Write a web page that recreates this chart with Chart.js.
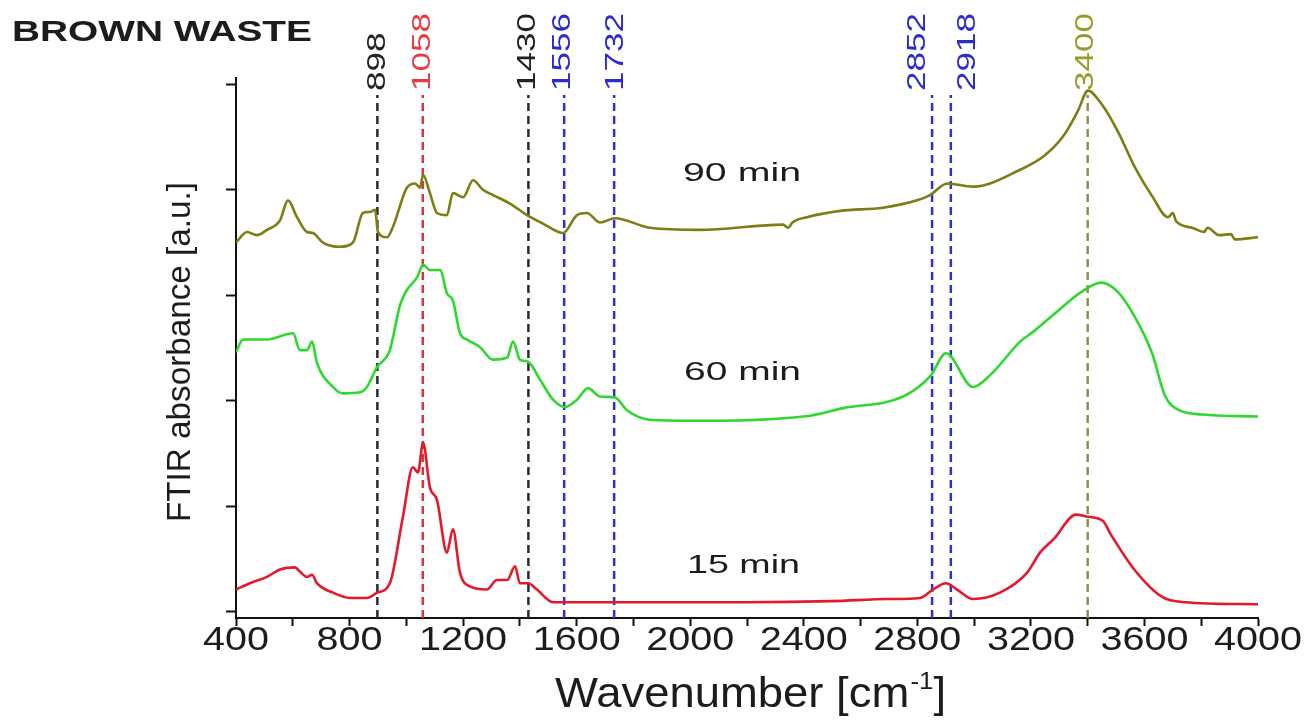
<!DOCTYPE html>
<html>
<head>
<meta charset="utf-8">
<style>
html,body{margin:0;padding:0;background:#fff;overflow:hidden}
canvas{display:block}
</style>
<script src="https://cdn.jsdelivr.net/npm/chart.js@4.4.1/dist/chart.umd.min.js"></script>
</head>
<body>
<canvas id="c" width="1308" height="722"></canvas>
<script>
// ---------- data ----------
const xTicks = [400,600,800,1000,1200,1400,1600,1800,2000,2200,2400,2600,2800,3000,3200,3400,3600,3800,4000];
const xTickLabels = [400,800,1200,1600,2000,2400,2800,3200,3600,4000];
const yTicks = [0,1,2,3,4,5];

const wn15 = [400,449,509,555,608,625,650,668,685,742,802,861,897,942,988,1023,1041,1059,1083,1108,1143,1164,1189,1224,1284,1319,1355,1383,1400,1429,1460,1517,1622,1858,2200,2500,2700,2809,2855,2901,2940,2996,3091,3187,3232,3281,3359,3401,3454,3482,3567,3662,3743,4000];
const abs15 = [0.21,0.27,0.33,0.40,0.42,0.38,0.33,0.35,0.27,0.18,0.13,0.13,0.18,0.27,0.90,1.37,1.32,1.60,1.18,1.06,0.56,0.78,0.37,0.24,0.21,0.30,0.30,0.43,0.27,0.27,0.21,0.09,0.09,0.09,0.09,0.10,0.12,0.13,0.21,0.27,0.21,0.12,0.18,0.37,0.56,0.69,0.92,0.90,0.86,0.73,0.39,0.14,0.09,0.07];

const wn60 = [400,425,509,601,625,650,668,685,742,777,837,861,897,942,978,1002,1038,1059,1083,1119,1143,1164,1189,1214,1259,1305,1355,1376,1400,1429,1471,1517,1559,1601,1640,1682,1735,1777,1858,2000,2400,2540,2750,2845,2901,2996,3059,3162,3211,3281,3377,3447,3507,3567,3627,3672,3722,3803,4000];
const abs60 = [2.46,2.58,2.58,2.64,2.48,2.48,2.56,2.36,2.13,2.07,2.08,2.13,2.32,2.48,2.91,3.05,3.17,3.29,3.24,3.24,3.02,2.95,2.64,2.58,2.51,2.39,2.41,2.56,2.39,2.37,2.20,2.01,1.94,2.01,2.12,2.04,2.03,1.91,1.82,1.81,1.85,1.93,2.04,2.23,2.45,2.13,2.25,2.56,2.66,2.82,3.03,3.12,3.03,2.79,2.45,2.05,1.91,1.87,1.85];

const wn90 = [400,439,474,509,555,583,615,650,671,706,766,812,847,872,890,900,932,953,1002,1031,1048,1059,1083,1108,1143,1164,1200,1235,1270,1305,1365,1425,1481,1552,1601,1636,1682,1735,1858,2034,2327,2345,2360,2411,2528,2679,2799,2845,2905,2996,3162,3246,3317,3366,3401,3447,3507,3567,3627,3683,3700,3712,3768,3810,3822,3863,3905,3918,4000];
const abs90 = [3.50,3.60,3.57,3.62,3.71,3.90,3.74,3.60,3.59,3.50,3.46,3.50,3.78,3.79,3.81,3.60,3.55,3.65,4.02,4.06,4.02,4.14,3.97,3.78,3.76,3.97,3.93,4.09,4.00,3.95,3.87,3.76,3.68,3.59,3.76,3.78,3.69,3.73,3.64,3.62,3.67,3.64,3.69,3.74,3.80,3.83,3.90,3.95,4.06,4.03,4.19,4.32,4.52,4.75,4.94,4.82,4.55,4.21,3.94,3.74,3.78,3.70,3.64,3.60,3.64,3.57,3.58,3.53,3.55];

const peakWn = [898,1058,1430,1556,1732,2852,2918,3400];
const peakLabels = ['898','1058','1430','1556','1732','2852','2918','3400'];
const seriesNames = ['15 min','60 min','90 min'];
const yRange = [-0.06, 5.06];
const peakLineTop = 4.9;

// ---------- styles ----------
const FONT = "'Liberation Sans', Arial, Helvetica, sans-serif";
const peakColors = ['#2a2a33','#e0303a','#2a2a33','#3030cc','#3030cc','#3030cc','#3030cc','#8f8f50'];
const peakTextColors = ['#222222','#e83a40','#222222','#2b2bd0','#2b2bd0','#2b2bd0','#2b2bd0','#9a9a28'];
const peakLabelDx = [0,0,-1,-1,2,-14,17,-2];
const seriesColors = ['#e5182c','#2fd82f','#7d7d14'];

const pts = (xs, ys) => xs.map((x, i) => ({x: x, y: ys[i]}));

const datasets = [];
peakWn.forEach((w, i) => {
  datasets.push({
    data: [{x: w, y: yRange[0]}, {x: w, y: peakLineTop}],
    borderColor: peakColors[i], borderWidth: 2.5, borderDash: [8, 5],
    pointRadius: 0, tension: 0, order: 5
  });
});
[[wn15, abs15], [wn60, abs60], [wn90, abs90]].forEach((s, i) => {
  datasets.push({
    label: seriesNames[i], data: pts(s[0], s[1]),
    borderColor: seriesColors[i], borderWidth: 2.6, pointRadius: 0,
    cubicInterpolationMode: 'monotone', order: 1
  });
});

function stretchText(ctx, text, x, y, font, color, targetW, align, baseline, rot) {
  ctx.save();
  ctx.font = font;
  ctx.fillStyle = color;
  const w = ctx.measureText(text).width;
  const sx = targetW ? targetW / w : 1;
  ctx.translate(x, y);
  if (rot) ctx.rotate(rot);
  ctx.scale(sx, 1);
  ctx.textAlign = align;
  ctx.textBaseline = baseline;
  ctx.fillText(text, 0, 0);
  ctx.restore();
}

const textPlugin = {
  id: 'texts',
  afterDraw(chart) {
    const ctx = chart.ctx;
    const xs = chart.scales.x, ys = chart.scales.y;
    const dark = '#1c1c1c';
    // title
    stretchText(ctx, 'BROWN WASTE', 12, 41, 'bold 30px ' + FONT, dark, 300, 'left', 'alphabetic', 0);
    // x tick labels
    xTickLabels.forEach(v => {
      const s = String(v);
      stretchText(ctx, s, xs.getPixelForValue(v), 650, '33px ' + FONT, dark, s.length * 22, 'center', 'alphabetic', 0);
    });
    // x title with superscript
    ctx.save();
    const f1 = '42px ' + FONT, f2 = '24px ' + FONT;
    ctx.font = f1; const w1 = ctx.measureText('Wavenumber [cm').width; const w3 = ctx.measureText(']').width;
    ctx.font = f2; const w2 = ctx.measureText('-1').width;
    const total = w1 + w2 + w3, target = 390;
    const sx = target / total;
    const cx = (xs.left + xs.right) / 2 + 3;
    ctx.translate(cx - target / 2, 707);
    ctx.scale(sx, 1);
    ctx.fillStyle = dark; ctx.textAlign = 'left'; ctx.textBaseline = 'alphabetic';
    ctx.font = f1; ctx.fillText('Wavenumber [cm', 0, 0);
    ctx.font = f2; ctx.fillText('-1', w1 + 1, -18);
    ctx.font = f1; ctx.fillText(']', w1 + w2 + 1, 0);
    ctx.restore();
    // y title
    stretchText(ctx, 'FTIR absorbance [a.u.]', 181, 352, '34px ' + FONT, dark, 340, 'center', 'middle', -Math.PI / 2);
    // peak labels
    const labelBase = ys.getPixelForValue(peakLineTop) - 4;
    peakWn.forEach((w, i) => {
      const t = peakLabels[i];
      stretchText(ctx, t, xs.getPixelForValue(w) + peakLabelDx[i], labelBase, '26px ' + FONT, peakTextColors[i], t.length * 19.5, 'left', 'middle', -Math.PI / 2);
    });
    // series labels
    stretchText(ctx, '90 min', 683, 181, '25px ' + FONT, dark, 118, 'left', 'alphabetic', 0);
    stretchText(ctx, '60 min', 684, 380, '25px ' + FONT, dark, 117, 'left', 'alphabetic', 0);
    stretchText(ctx, '15 min', 687, 573, '25px ' + FONT, dark, 113, 'left', 'alphabetic', 0);
  }
};

new Chart(document.getElementById('c'), {
  type: 'line',
  data: {datasets: datasets},
  options: {
    responsive: false, animation: false, devicePixelRatio: 1,
    layout: {padding: {left: 224, right: 50, top: 78, bottom: 0}},
    plugins: {legend: {display: false}, tooltip: {enabled: false}, title: {display: false}},
    scales: {
      x: {
        type: 'linear', min: 400, max: 4000,
        afterBuildTicks: s => { s.ticks = xTicks.map(v => ({value: v})); },
        ticks: {display: false},
        grid: {drawOnChartArea: false, drawTicks: true, tickLength: 8, tickWidth: 2, tickColor: '#111'},
        border: {display: true, color: '#111', width: 2},
        afterFit: s => { s.height = 104; }
      },
      y: {
        type: 'linear', min: yRange[0], max: yRange[1],
        afterBuildTicks: s => { s.ticks = yTicks.map(v => ({value: v})); },
        ticks: {display: false},
        grid: {drawOnChartArea: false, drawTicks: true, tickLength: 10, tickWidth: 2, tickColor: '#111'},
        border: {display: true, color: '#111', width: 2},
        afterFit: s => { s.width = 12; }
      }
    }
  },
  plugins: [textPlugin]
});
</script>
</body>
</html>
